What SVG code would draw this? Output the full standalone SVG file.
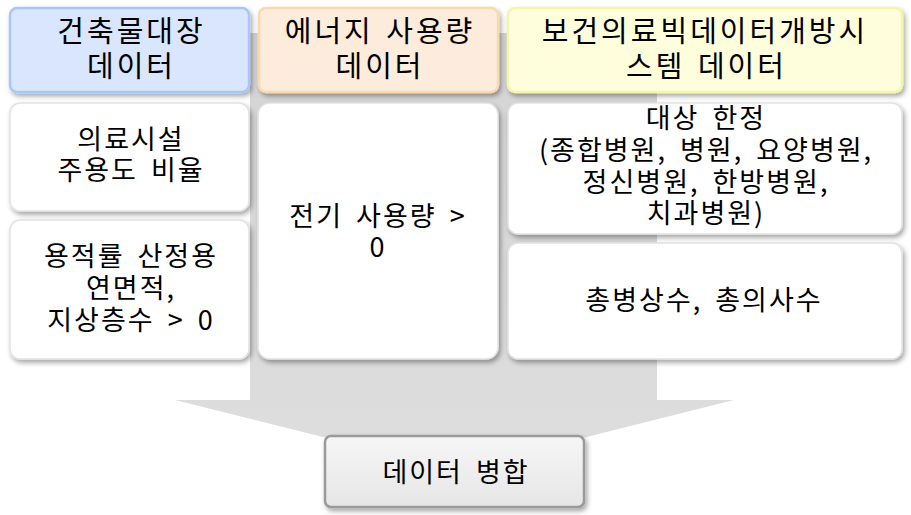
<svg xmlns="http://www.w3.org/2000/svg" width="911" height="515" viewBox="0 0 911 515">
<defs>
<filter id="sh" x="-10%" y="-10%" width="125%" height="130%">
<feDropShadow dx="2" dy="3" stdDeviation="2.5" flood-color="#000" flood-opacity="0.35"/>
</filter>
<linearGradient id="arr" x1="0" y1="0" x2="0" y2="1">
<stop offset="0" stop-color="#d4d4d4"/>
<stop offset="1" stop-color="#dedede"/>
</linearGradient>
<linearGradient id="bot" x1="0" y1="0" x2="0" y2="1">
<stop offset="0" stop-color="#f6f6f6"/>
<stop offset="1" stop-color="#e6e6e6"/>
</linearGradient>
<style>
text{font-family:"Noto Sans CJK KR","Noto Sans",sans-serif;fill:#000;text-anchor:middle}
.h{font-size:29px;letter-spacing:3px;word-spacing:3px}
.b{font-size:27px;letter-spacing:2px;word-spacing:5px}
.body{fill:#fff;stroke:#e2e2e2;stroke-width:1.5}
</style>
</defs>
<rect width="911" height="515" fill="#fff"/>
<g id="connectors">
<path d="M250 33 H657 V400 H734 L455 470 L175 400 H250 Z" fill="url(#arr)"/>
</g>
<g id="h1">
<rect x="10" y="8" width="239" height="84" rx="7" fill="#d9e6fd" stroke="#a8c6f8" stroke-width="2.5" filter="url(#sh)"/>
<text class="h"><tspan x="131.5" y="42">건축물대장</tspan><tspan x="131.5" y="77">데이터</tspan></text>
</g>
<g id="h2">
<rect x="259" y="8" width="239" height="84" rx="7" fill="#fdecdc" stroke="#fad9b0" stroke-width="2.5" filter="url(#sh)"/>
<text class="h"><tspan x="380" y="42">에너지 사용량</tspan><tspan x="380" y="77">데이터</tspan></text>
</g>
<g id="h3">
<rect x="508" y="8" width="394" height="84" rx="7" fill="#fefedd" stroke="#f4f5aa" stroke-width="2.5" filter="url(#sh)"/>
<text class="h"><tspan x="705" y="42">보건의료빅데이터개방시</tspan><tspan x="706.5" y="77">스템 데이터</tspan></text>
</g>
<g id="b1">
<rect x="10" y="103" width="239" height="108" rx="10" class="body" filter="url(#sh)"/>
<text class="b"><tspan x="131" y="149">의료시설</tspan><tspan x="131" y="180">주용도 비율</tspan></text>
</g>
<g id="b2">
<rect x="10" y="220" width="239" height="139" rx="10" class="body" filter="url(#sh)"/>
<text class="b"><tspan x="131" y="266">용적률 산정용</tspan><tspan x="131" y="298">연면적,</tspan><tspan x="131" y="330">지상층수 &gt; 0</tspan></text>
</g>
<g id="b3">
<rect x="258" y="103" width="240" height="256" rx="12" class="body" filter="url(#sh)"/>
<text class="b"><tspan x="378" y="226">전기 사용량 &gt;</tspan><tspan x="378" y="257">0</tspan></text>
</g>
<g id="b4">
<rect x="508" y="103" width="394" height="131" rx="10" class="body" filter="url(#sh)"/>
<text class="b"><tspan x="706" y="128">대상 한정</tspan><tspan x="706" y="160">(종합병원, 병원, 요양병원,</tspan><tspan x="706" y="192">정신병원, 한방병원,</tspan><tspan x="706" y="223">치과병원)</tspan></text>
</g>
<g id="b5">
<rect x="508" y="243" width="394" height="116" rx="10" class="body" filter="url(#sh)"/>
<text class="b" x="704" y="310">총병상수, 총의사수</text>
</g>
<g id="merge">
<rect x="325" y="436" width="259" height="71" rx="6" fill="url(#bot)" stroke="#9a9a9a" stroke-width="2.5" filter="url(#sh)"/>
<text class="b" x="456" y="482">데이터 병합</text>
</g>
</svg>
